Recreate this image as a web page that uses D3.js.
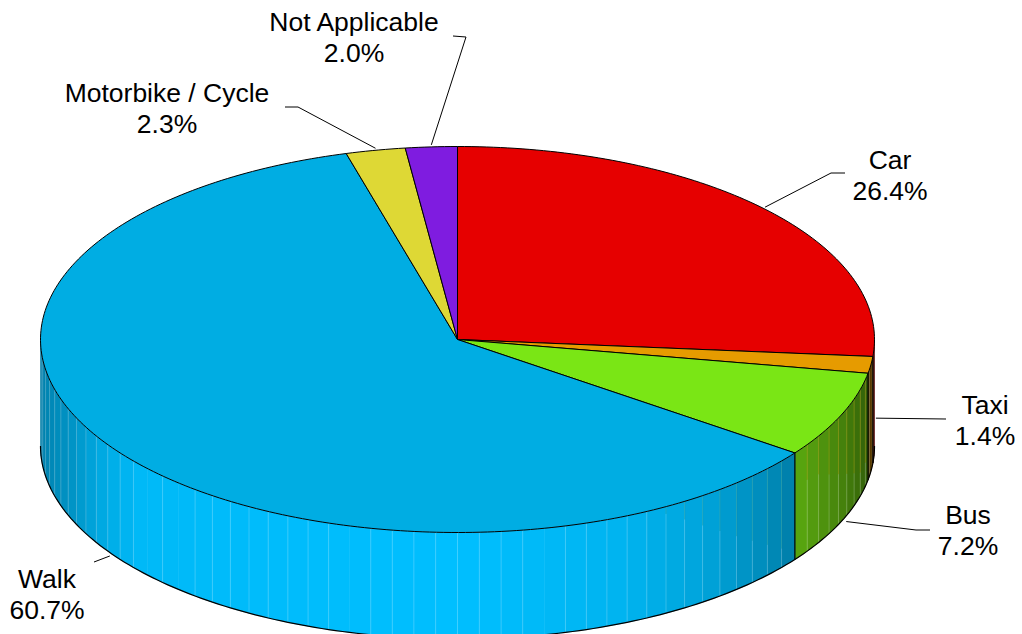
<!DOCTYPE html>
<html><head><meta charset="utf-8">
<style>html,body{margin:0;padding:0;background:#fff;overflow:hidden}svg{display:block}text{font-family:"Liberation Sans",Arial,sans-serif;font-size:26.5px;fill:#000}</style>
<script src="https://cdn.jsdelivr.net/npm/d3@7/dist/d3.min.js"></script>
</head><body><svg id="c" width="1022" height="634"></svg>
<script>
const categories=["Car","Taxi","Bus","Walk","Motorbike / Cycle","Not Applicable"];
const shares=[26.4,1.4,7.2,60.7,2.3,2.0];
const shareLabels=["26.4%","1.4%","7.2%","60.7%","2.3%","2.0%"];
const topColors=["#e60000","#e69b00","#7ae615","#00ade3","#ded835","#7f1ce0"];
const wallColors=["#ff0000","#ffac00","#88ff18","#00bfff","#f6f03a","#8d1fff"];
const shadeAngles=[90,100,126,144,157,180,230,239,248,270];
const shadeLevels=[.30,.36,.66,.86,.94,1,.97,.88,.77,.64];
const faintSeams=[168,195,222,228];

const W=1022,H=634,cx=457.5,cy=339.5,rx=417,ry=193,depth=106.5,rad=Math.PI/180;
const svg=d3.select("#c");
const sx=d3.scaleLinear().domain([-1,1]).range([cx-rx,cx+rx]);
const sy=d3.scaleLinear().domain([-1,1]).range([cy-ry,cy+ry]);
const shade=d3.scaleLinear().domain(shadeAngles).range(shadeLevels).clamp(true);
const px=d=>sx(Math.sin(d*rad)), py=d=>sy(-Math.cos(d*rad));
const pie=d3.pie().sort(null).value(d=>d.v).startAngle(0).endAngle(2*Math.PI);
const arcs=pie(shares.map((v,i)=>({v,i}))).map(a=>({i:a.data.i,a0:a.startAngle/rad,a1:a.endAngle/rad}));
const line=d3.line();
const sample=(a,b)=>{const n=Math.max(2,Math.ceil(Math.abs(b-a)));return d3.range(n+1).map(k=>a+(b-a)*k/n);};
const darken=(c,f)=>{const r=d3.rgb(c);return d3.rgb(r.r*f,r.g*f,r.b*f).formatHex();};

// side wall
const gWall=svg.append("g");
const seamUpper={2:d3.scaleLinear().domain([105,120,126]).range([.78,.36,.3]).clamp(true),
                 3:d3.scaleLinear().domain([126,138,147,152]).range([.93,.5,.17,0]).clamp(true)};
const seamTint={2:"#b09a10",3:"#3fa69a"};
arcs.forEach(s=>{
  const a0=Math.max(s.a0,90),a1=Math.min(s.a1,270);
  if(a1<=a0)return;
  const cuts=[a0,...d3.range(Math.ceil(a0/3+1e-6)*3,a1,3),a1];
  const facets=d3.pairs(cuts).map(([u,v])=>({u,v,col:darken(wallColors[s.i],shade((u+v)/2))}));
  facets.forEach(f=>{
    const top=sample(f.u,f.v).map(t=>[px(t),py(t)]);
    const bot=top.map(p=>[p[0],p[1]+depth]).reverse();
    gWall.append("path").attr("d",line(top.concat(bot))+"Z").attr("fill",f.col).attr("stroke",f.col).attr("stroke-width",.5);
  });
  cuts.slice(1,-1).forEach(t=>{
    if(faintSeams.includes(t))return;
    const x=px(t),y=py(t);
    const f=seamUpper[s.i]?seamUpper[s.i](t):0;
    if(f>0)gWall.append("line").attr("x1",x).attr("x2",x).attr("y1",y).attr("y2",y+depth*f)
      .attr("stroke",seamTint[s.i]).attr("stroke-opacity",.45).attr("stroke-width",1);
    gWall.append("line").attr("x1",x).attr("x2",x).attr("y1",y+depth*f).attr("y2",y+depth)
      .attr("stroke","#fff").attr("stroke-opacity",.2).attr("stroke-width",1);
  });
});
// wall boundaries
arcs.filter(s=>s.a1>90&&s.a1<270).forEach(s=>{
  gWall.append("line").attr("x1",px(s.a1)).attr("x2",px(s.a1)).attr("y1",py(s.a1)).attr("y2",py(s.a1)+depth)
    .attr("stroke","#000").attr("stroke-width",1.2);
});
// bottom rim
svg.append("path").attr("d",line(sample(90,270).map(t=>[px(t),py(t)+depth]))).attr("fill","none").attr("stroke","#000").attr("stroke-width",1.2);

// top face
svg.append("g").selectAll("path").data(arcs).join("path")
  .attr("d",s=>line([[cx,cy],...sample(s.a0,s.a1).map(t=>[px(t),py(t)])])+"Z")
  .attr("fill",s=>topColors[s.i]).attr("stroke","#000").attr("stroke-width",1).attr("stroke-linejoin","round");

// leader lines anchored on each slice's middle angle
const leaderBends=[[[831,173],[845,173]],[[946,419]],[[916,530],[930,530]],[[94,562]],[[298,107],[285,107]],[[466,37],[453,36]]];
const labelCentres=[[890,169],[985,414],[968,524],[47,588],[167,102],[354,31]];
const g=svg.append("g");
arcs.forEach(s=>{
  const m=(s.a0+s.a1)/2;
  const onWall=m>90&&m<270;
  const dropFrac=s.i===1?.5:1;
  const start=[px(m)+(onWall?(s.i===3?-5:5):0),py(m)+(onWall?depth*dropFrac:-2)];
  g.append("path").attr("d",line([start,...leaderBends[s.i]])).attr("fill","none").attr("stroke","#000").attr("stroke-width",1);
  const [lx,ly]=labelCentres[s.i];
  g.append("text").attr("x",lx).attr("y",ly).attr("text-anchor","middle").text(categories[s.i]);
  g.append("text").attr("x",lx).attr("y",ly+31).attr("text-anchor","middle").text(shareLabels[s.i]);
});
</script></body></html>
